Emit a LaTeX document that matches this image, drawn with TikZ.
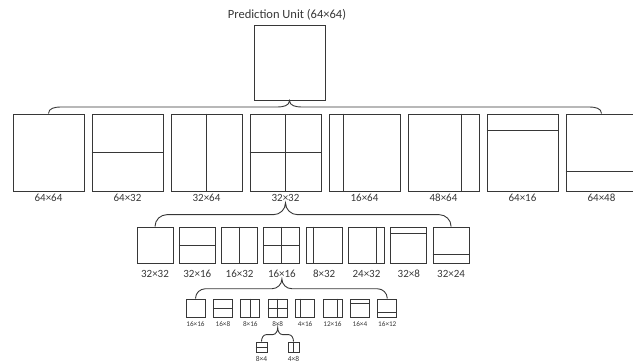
\documentclass[tikz,border=0pt]{standalone}
\usepackage{fontspec}
\setmainfont{Carlito}
\usepackage{tikz}
\usetikzlibrary{calc}

\definecolor{ink}{RGB}{55,55,55}

% inner partition lines of a block
\newcommand{\splitv}[2]{\draw[part] ($(#1.north west)!#2!(#1.north east)$) -- ($(#1.south west)!#2!(#1.south east)$);}
\newcommand{\splith}[2]{\draw[part] ($(#1.north west)!#2!(#1.south west)$) -- ($(#1.north east)!#2!(#1.south east)$);}
% curly bracket: tip, left end, right end, corner radius
\newcommand{\pubrace}[4]{\draw[brace] let \p1=(#1), \p2=(#2), \p3=(#3), \n1={0.5*(\y1+\y2)} in
  (\x2,\y2) to[out=90,in=180] (\x2+#4,\n1) -- (\x1-#4,\n1) to[out=0,in=-90] (\x1,\y1)
  to[out=-90,in=180] (\x1+#4,\n1) -- (\x3-#4,\n1) to[out=0,in=90] (\x3,\y3);}

\begin{document}
\begin{tikzpicture}[x=1pt, y=-1pt,
    blk/.style={draw=ink, line width=1pt, inner sep=0pt},
    part/.style={draw=ink, line width=1pt},
    brace/.style={draw=ink, line width=0.9pt},
    lab/.style={text=ink, inner sep=1pt, font=\fontsize{11}{12}\selectfont},
    slab/.style={text=ink, inner sep=1pt, font=\fontsize{7.2}{8}\selectfont},
  ]
    \clip (0,0) rectangle (633,364);

    \node[text=ink, font=\fontsize{12.5}{14}\selectfont] (title) at (287,15) {Prediction Unit (64×64)};
    \node[blk, minimum width=71pt, minimum height=75pt] (pu) at (289.5,62.5) {};

    % level 1: 64x64 partitions
    \foreach \lab [count=\i] in {64×64,64×32,32×64,32×32,16×64,48×64,64×16,64×48} {
      \pgfmathsetmacro{\x}{48.5+79*(\i-1)}
      \node[blk, minimum width=71pt, minimum height=77pt] (a\i) at (\x,152.5) {};
      \node[lab] (la\i) at (\x,198) {\lab};
    }
    \splith{a2}{0.5}
    \splitv{a3}{0.5}
    \splitv{a4}{0.5} \splith{a4}{0.5}
    \splitv{a5}{0.21}
    \splitv{a6}{0.75}
    \splith{a7}{0.22}
    \splith{a8}{0.74}

    % level 2: 32x32 partitions
    \foreach \lab [count=\i] in {32×32,32×16,16×32,16×16,8×32,24×32,32×8,32×24} {
      \pgfmathsetmacro{\x}{155+42.3*(\i-1)}
      \node[blk, minimum size=36pt] (b\i) at (\x,245) {};
      \node[lab] (lb\i) at (\x,274) {\lab};
    }
    \splith{b2}{0.5}
    \splitv{b3}{0.5}
    \splitv{b4}{0.5} \splith{b4}{0.5}
    \splitv{b5}{0.22}
    \splitv{b6}{0.78}
    \splith{b7}{0.18}
    \splith{b8}{0.75}

    % level 3: 16x16 partitions
    \foreach \lab [count=\i] in {16×16,16×8,8×16,8×8,4×16,12×16,16×4,16×12} {
      \pgfmathsetmacro{\x}{195.5+27.4*(\i-1)}
      \node[blk, minimum width=19pt, minimum height=18pt] (c\i) at (\x,308) {};
      \node[slab] (lc\i) at (\x,324) {\lab};
    }
    \splith{c2}{0.5}
    \splitv{c3}{0.5}
    \splitv{c4}{0.5} \splith{c4}{0.5}
    \splitv{c5}{0.25}
    \splitv{c6}{0.75}
    \splith{c7}{0.25}
    \splith{c8}{0.75}

    % level 4: 8x8 partitions
    \node[blk, minimum width=11pt, minimum height=10pt] (d1) at (261.5,347) {};
    \node[blk, minimum width=11pt, minimum height=10pt] (d2) at (293.5,347) {};
    \node[slab, font=\fontsize{7.5}{8}\selectfont] (ld1) at (261.5,359) {8×4};
    \node[slab, font=\fontsize{7.5}{8}\selectfont] (ld2) at (293.5,359) {4×8};
    \splith{d1}{0.5}
    \splitv{d2}{0.5}

    \pubrace{pu.south}{a1.north}{a8.north}{12pt}
    \pubrace{la4.south}{b1.north}{b8.north}{12pt}
    \pubrace{lb4.south}{c1.north}{c8.north}{10pt}
    \pubrace{lc4.south}{d1.north}{d2.north}{5pt}
  \end{tikzpicture}
\end{document}
